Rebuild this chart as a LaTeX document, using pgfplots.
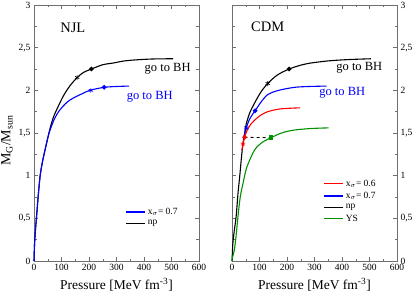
\documentclass[border=0pt]{standalone}
\usepackage{pgfplots}
\pgfplotsset{compat=1.18}
\usepackage{fontspec}
\setmainfont{Liberation Serif}
\definecolor{ggreen}{RGB}{0,145,0}
\definecolor{fr}{RGB}{110,110,110}
\pgfplotsset{
 myax/.style={
  scale only axis, width=165pt, height=256pt,
  xmin=0,xmax=600,ymin=0,ymax=3,
  xtick={0,100,200,300,400,500,600}, ytick={0,0.5,1,1.5,2,2.5,3},
  minor x tick num=1, minor y tick num=1,
  tick align=inside,
  major tick length=4pt, minor tick length=2.5pt,
  axis line style={fr}, every tick/.style={fr},
  /pgf/number format/use comma,
  /pgf/number format/assume math mode=true,
  ticklabel style={font=\fontsize{9.5}{11}\selectfont},
  xlabel={Pressure [MeV fm\textsuperscript{-3}]},
  xlabel style={font=\fontsize{13.5}{15}\selectfont, at={(axis description cs:0.5,-0.113)}, anchor=base},
  legend style={draw=none, fill=none, font=\fontsize{9.5}{10}\selectfont, inner sep=0pt, outer sep=0pt, row sep=0.5pt, legend cell align=left},
  legend image code/.code={\draw[#1, line width=1.3pt] (0pt,0pt) -- (19pt,0pt);},
  every axis plot/.append style={line width=1.1pt},
  clip=false,
 }
}
\begin{document}
\begin{tikzpicture}
\useasboundingbox (0,0) rectangle (415pt,292pt);
% Left panel: NJL
\begin{axis}[myax, at={(34pt,31pt)}, anchor=south west,
  ylabel={M\textsubscript{G}/M\textsubscript{sun}},
  ylabel style={font=\fontsize{14}{15}\selectfont, at={(axis description cs:-0.164,0.47)}, anchor=center},
  legend style={at={(axis description cs:0.555,0.215)}, anchor=north west}]
\addplot[black, smooth, forget plot] coordinates {
(0,0) (0.5,0.05) (2,0.2) (5,0.35) (10,0.55) (15,0.75) (22,0.99) (30,1.15) (40,1.30) (50,1.44) (58,1.55) (70,1.68) (82,1.77) (106,1.93) (130,2.05) (157,2.15) (180,2.21) (209,2.25) (250,2.30) (288,2.32) (330,2.345) (384,2.36) (440,2.368) (506,2.37)};
\addplot[blue, smooth, forget plot] coordinates {
(0,0) (0.5,0.05) (2,0.2) (5,0.35) (10,0.55) (15,0.75) (22,0.99) (30,1.15) (40,1.30) (50,1.44) (58,1.53) (75,1.67) (94,1.77) (120,1.86) (143,1.91) (175,1.96) (203,2.0) (254,2.035) (300,2.045) (346,2.05)};
\addplot[black, only marks, mark=asterisk, mark size=2.5pt, line width=0.6pt, forget plot] coordinates {(157,2.15)};
\addplot[black, only marks, mark=*, mark size=1.7pt, forget plot] coordinates {(209,2.25)};
\addplot[blue, only marks, mark=asterisk, mark size=2.5pt, line width=0.6pt, forget plot] coordinates {(207,2.0)};
\addplot[blue, only marks, mark=*, mark size=1.7pt, forget plot] coordinates {(255,2.035)};
\addlegendimage{blue}
\addlegendentry{x\textsubscript{$\sigma$}= 0.7}
\addlegendimage{black}
\addlegendentry{np}
\node[font=\fontsize{14.5}{16}\selectfont] at (axis cs:141,2.73) {NJL};
\node[font=\fontsize{12.5}{14}\selectfont, black] at (axis cs:486,2.25) {go to BH};
\node[font=\fontsize{12.5}{14}\selectfont, blue] at (axis cs:421,1.93) {go to BH};
\end{axis}
% Right panel: CDM
\begin{axis}[myax, at={(232pt,31pt)}, anchor=south west,
  yticklabel pos=right,
  legend style={at={(axis description cs:0.555,0.325)}, anchor=north west}]
\addplot[black, smooth, forget plot] coordinates {
(0,0) (0.5,0.03) (3,0.2) (8,0.35) (15,0.52) (22,0.8) (28,0.99) (34,1.2) (40,1.38) (46,1.5) (52,1.61) (65,1.74) (82,1.85) (105,1.98) (130,2.08) (165,2.18) (208,2.25) (250,2.295) (287,2.32) (350,2.345) (420,2.36) (505,2.37)};
\addplot[blue, smooth, forget plot] coordinates {
(44,1.46) (52,1.56) (65,1.67) (84,1.76) (105,1.86) (130,1.95) (170,2.0) (227,2.035) (280,2.045) (344,2.05)};
\addplot[red, smooth, forget plot] coordinates {
(36,1.3) (40,1.37) (46,1.45) (55,1.53) (70,1.61) (82,1.65) (105,1.71) (130,1.75) (170,1.78) (210,1.79) (248,1.795)};
\addplot[ggreen, smooth, forget plot] coordinates {
(0,0) (0.5,0.03) (5,0.08) (9.6,0.15) (15,0.3) (21.7,0.52) (30,0.75) (40,0.91) (54,1.10) (82,1.30) (110,1.39) (142,1.445) (180,1.5) (227,1.535) (290,1.553) (351,1.56)};
\addplot[black, dashed, line width=0.8pt, forget plot] coordinates {(46,1.45) (142,1.445)};
\addplot[black, only marks, mark=asterisk, mark size=2.5pt, line width=0.6pt, forget plot] coordinates {(130,2.08)};
\addplot[black, only marks, mark=*, mark size=1.7pt, forget plot] coordinates {(208,2.25)};
\addplot[blue, only marks, mark=asterisk, mark size=2.5pt, line width=0.6pt, forget plot] coordinates {(52,1.56)};
\addplot[blue, only marks, mark=*, mark size=1.7pt, forget plot] coordinates {(84,1.76)};
\addplot[red, only marks, mark=asterisk, mark size=2.5pt, line width=0.6pt, forget plot] coordinates {(40,1.37)};
\addplot[red, only marks, mark=*, mark size=1.7pt, forget plot] coordinates {(46,1.45)};
\addplot[ggreen, only marks, mark=square*, mark size=1.7pt, forget plot] coordinates {(142,1.445)};
\addlegendimage{red}
\addlegendentry{x\textsubscript{$\sigma$}= 0.6}
\addlegendimage{blue}
\addlegendentry{x\textsubscript{$\sigma$}= 0.7}
\addlegendimage{black}
\addlegendentry{np}
\addlegendimage{ggreen}
\addlegendentry{YS}
\node[font=\fontsize{14.5}{16}\selectfont] at (axis cs:130,2.75) {CDM};
\node[font=\fontsize{12.5}{14}\selectfont, black] at (axis cs:463,2.26) {go to BH};
\node[font=\fontsize{12.5}{14}\selectfont, blue] at (axis cs:401,1.97) {go to BH};
\end{axis}
\end{tikzpicture}
\end{document}
